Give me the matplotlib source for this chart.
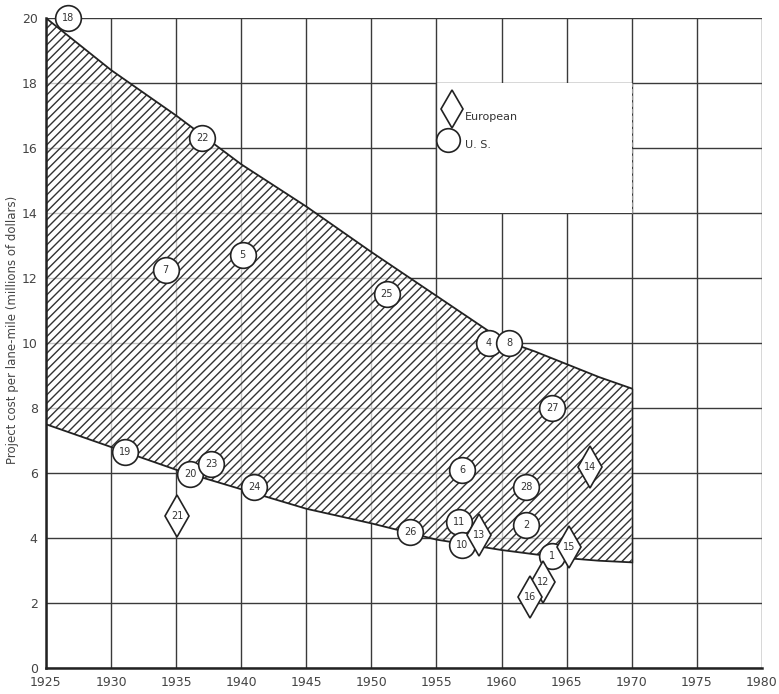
import numpy as np
import matplotlib
matplotlib.use("Agg")
import matplotlib.pyplot as plt
from matplotlib.patches import Rectangle

# band limits
band_years = [1925, 1930, 1935, 1940, 1945, 1950, 1955, 1960, 1962.5, 1965, 1967.5, 1970]
band_upper = [20.0, 18.4, 17.0, 15.5, 14.2, 12.8, 11.45, 10.1, 9.75, 9.35, 8.95, 8.6]
band_lower = [7.5, 6.8, 6.1, 5.5, 4.9, 4.45, 3.95, 3.63, 3.5, 3.38, 3.3, 3.25]

# U.S. projects (circles)
us_ids = ["18", "22", "7", "5", "25", "4", "8", "27", "19", "20", "23", "24",
          "6", "28", "11", "26", "10", "2", "1"]
us_year = [1926.7, 1937.0, 1934.2, 1940.1, 1951.2, 1959.0, 1960.6, 1963.9,
           1931.1, 1936.1, 1937.7, 1941.0, 1957.0, 1961.9, 1956.7, 1953.0,
           1957.0, 1961.9, 1963.9]
us_cost = [20.0, 16.3, 12.25, 12.7, 11.5, 10.0, 10.0, 8.0,
           6.65, 5.97, 6.28, 5.57, 6.09, 5.57, 4.49, 4.18,
           3.78, 4.4, 3.45]

# European projects (diamonds)
eu_ids = ["21", "13", "15", "14", "12", "16"]
eu_year = [1935.1, 1958.3, 1965.2, 1966.8, 1963.2, 1962.2]
eu_cost = [4.68, 4.09, 3.72, 6.18, 2.65, 2.18]

plt.rcParams['hatch.linewidth'] = 1.0
fig = plt.figure(figsize=(7.79, 6.94), dpi=100)
ax = fig.add_axes([0.059, 0.0375, 0.919, 0.9365])
ax.set_xlim(1925, 1980)
ax.set_ylim(0, 20)

gc = "#3a3a3a"
for x in range(1925, 1981, 5):
    ax.axvline(x, color=gc, lw=1.0, zorder=0)
for y in range(0, 21, 2):
    ax.axhline(y, color=gc, lw=1.0, zorder=0)

# blank box behind the legend
ax.add_patch(Rectangle((1955, 14), 15, 4, facecolor="white", edgecolor="none", zorder=1))
ax.plot([1955, 1955], [14, 18], color=gc, lw=1.0, zorder=1.5)
ax.plot([1970, 1970], [14, 18], color="#999999", lw=0.8, ls=(0, (4, 2)), zorder=1.5)

ax.fill_between(band_years, band_lower, band_upper, facecolor=(1, 1, 1, 0.7),
                edgecolor="#333333", hatch="////", linewidth=0, zorder=2)
ax.plot(band_years, band_upper, color="#222222", lw=1.3, zorder=3)
ax.plot(band_years, band_lower, color="#222222", lw=1.3, zorder=3)
ax.plot([1970, 1970], [band_lower[-1], band_upper[-1]], color="#222222", lw=1.0, zorder=3)

ax.plot(us_year, us_cost, linestyle="none", marker="o", markersize=18.5,
        markerfacecolor="white", markeredgecolor="#222222", markeredgewidth=1.2,
        zorder=4, clip_on=False)
ax.plot(eu_year, eu_cost, linestyle="none", marker="d", markersize=21,
        markerfacecolor="white", markeredgecolor="#222222", markeredgewidth=1.2,
        zorder=4, clip_on=False)
for lab, x, y in zip(us_ids + eu_ids, us_year + eu_year, us_cost + eu_cost):
    ax.text(x, y, lab, ha="center", va="center", fontsize=7, color="#333333", zorder=5)

# legend keys
ax.plot([1956.2], [17.2], linestyle="none", marker="d", markersize=19,
        markerfacecolor="white", markeredgecolor="#222222", markeredgewidth=1.2, zorder=4)
ax.plot([1955.9], [16.25], linestyle="none", marker="o", markersize=17,
        markerfacecolor="white", markeredgecolor="#222222", markeredgewidth=1.2, zorder=4)
ax.text(1957.2, 16.95, "European", ha="left", va="center", fontsize=8, color="#333333")
ax.text(1957.2, 16.1, "U. S.", ha="left", va="center", fontsize=8, color="#333333")

ax.set_xticks(range(1925, 1981, 5))
ax.set_yticks(range(0, 21, 2))
ax.tick_params(length=0, labelsize=9, labelcolor="#444444", pad=6)
for s in ["top", "right"]:
    ax.spines[s].set_visible(False)
for s in ["left", "bottom"]:
    ax.spines[s].set_linewidth(1.8)
    ax.spines[s].set_color("#222222")
ax.set_ylabel("Project cost per lane-mile (millions of dollars)", fontsize=8.5,
              color="#444444")
ax.yaxis.set_label_coords(-0.038, 0.52)

fig.savefig("out.png", dpi=100)
